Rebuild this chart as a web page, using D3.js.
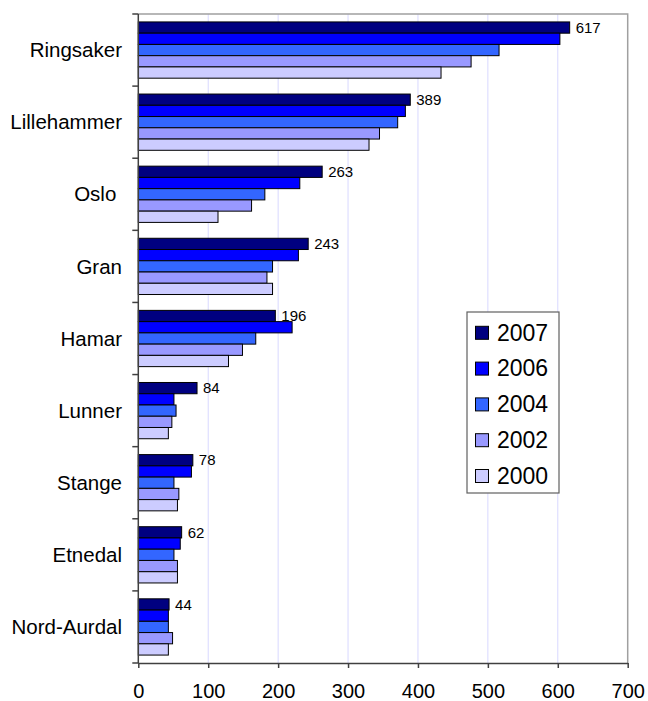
<!DOCTYPE html>
<html>
<head>
<meta charset="utf-8">
<script src="https://cdn.jsdelivr.net/npm/d3@7"></script>
<style>
  html, body { margin: 0; padding: 0; background: #fff; }
  svg { display: block; font-family: "Liberation Sans", Arial, sans-serif; }
</style>
</head>
<body>
<svg id="chart" width="648" height="701"></svg>
<script>
const categories = ["Ringsaker", "Lillehammer", "Oslo ", "Gran", "Hamar", "Lunner", "Stange", "Etnedal", "Nord-Aurdal"];
const years = ["2007", "2006", "2004", "2002", "2000"];
const v2007 = [617, 389, 263, 243, 196, 84, 78, 62, 44];
const v2006 = [603, 382, 231, 229, 220, 51, 76, 60, 43];
const v2004 = [516, 371, 181, 192, 168, 54, 51, 51, 43];
const v2002 = [476, 345, 162, 184, 149, 48, 58, 56, 49];
const v2000 = [433, 330, 114, 192, 129, 43, 56, 56, 43];
const xTicks = [0, 100, 200, 300, 400, 500, 600, 700];
const colors = ["#000080", "#0000ff", "#3366ff", "#9999ff", "#ccccff"];

const series = [v2007, v2006, v2004, v2002, v2000];

const svg = d3.select("#chart");
const L = 138.3, R = 627.7, T = 14, B = 663;

const x = d3.scaleLinear().domain([0, 700]).range([L, R]);
const y = d3.scaleBand().domain(categories).range([T, B]).paddingInner(0.22).paddingOuter(0.11);
const yInner = d3.scaleBand().domain(years).range([0, y.bandwidth()]);

// gridlines
svg.append("g").selectAll("line")
  .data(xTicks.filter(d => d > 0 && d < 700))
  .join("line")
  .attr("x1", d => x(d)).attr("x2", d => x(d))
  .attr("y1", T).attr("y2", B)
  .attr("stroke", "#d8d8ff").attr("stroke-width", 1);

// plot border (top and right)
svg.append("path")
  .attr("d", `M${L},${T}H${R}V${B}`)
  .attr("fill", "none").attr("stroke", "#a0a0a0").attr("stroke-width", 1.5);

// bars
const groups = svg.append("g").selectAll("g")
  .data(categories)
  .join("g")
  .attr("transform", c => `translate(0,${y(c)})`);

groups.selectAll("rect")
  .data((c, i) => years.map((yr, j) => ({ yr, j, v: series[j][i] })))
  .join("rect")
  .attr("x", x(0))
  .attr("y", d => yInner(d.yr))
  .attr("width", d => x(d.v) - x(0))
  .attr("height", yInner.bandwidth())
  .attr("fill", d => colors[d.j])
  .attr("stroke", "#000")
  .attr("stroke-width", 1);

// data labels for 2007
groups.append("text")
  .attr("x", (c, i) => x(v2007[i]) + 6)
  .attr("y", yInner("2007") + yInner.bandwidth() / 2)
  .attr("dy", "0.35em")
  .attr("font-size", 15)
  .attr("fill", "#000")
  .text((c, i) => v2007[i]);

// x axis
const xAxis = d3.axisBottom(x).tickValues(xTicks).tickSize(5).tickPadding(16).tickSizeOuter(0);
const gx = svg.append("g").attr("transform", `translate(0,${B})`).call(xAxis);
gx.select(".domain").attr("stroke", "#404040").attr("stroke-width", 1.5);
gx.selectAll(".tick line").attr("stroke", "#404040").attr("stroke-width", 1.5);
gx.selectAll("text").attr("font-size", 20).attr("font-family", "Liberation Sans, Arial, sans-serif").attr("fill", "#000");

// y axis: line + ticks at category boundaries
svg.append("line")
  .attr("x1", L).attr("x2", L).attr("y1", T).attr("y2", B)
  .attr("stroke", "#404040").attr("stroke-width", 1.5);
const step = (B - T) / categories.length;
svg.append("g").selectAll("line")
  .data(d3.range(categories.length + 1))
  .join("line")
  .attr("x1", L - 6).attr("x2", L)
  .attr("y1", i => T + i * step).attr("y2", i => T + i * step)
  .attr("stroke", "#404040").attr("stroke-width", 1.5);

svg.append("g").selectAll("text")
  .data(categories)
  .join("text")
  .attr("x", 122)
  .attr("y", c => y(c) + y.bandwidth() / 2)
  .attr("dy", "0.35em")
  .attr("text-anchor", "end")
  .attr("font-size", 20.5)
  .attr("fill", "#000")
  .style("white-space", "pre")
  .text(c => c);

// legend
const lg = svg.append("g");
lg.append("rect")
  .attr("x", 467).attr("y", 312).attr("width", 92).attr("height", 181)
  .attr("fill", "#fff").attr("stroke", "#606060").attr("stroke-width", 1.2);
const items = lg.selectAll("g.item")
  .data(years)
  .join("g")
  .attr("class", "item")
  .attr("transform", (d, i) => `translate(0,${332.3 + i * 35.8})`);
items.append("rect")
  .attr("x", 475.5).attr("y", -6).attr("width", 13).attr("height", 13)
  .attr("fill", (d, i) => colors[i]).attr("stroke", "#000").attr("stroke-width", 1);
items.append("text")
  .attr("x", 497).attr("y", 0).attr("dy", "0.36em")
  .attr("font-size", 23).attr("fill", "#000")
  .text(d => d);
</script>
</body>
</html>
